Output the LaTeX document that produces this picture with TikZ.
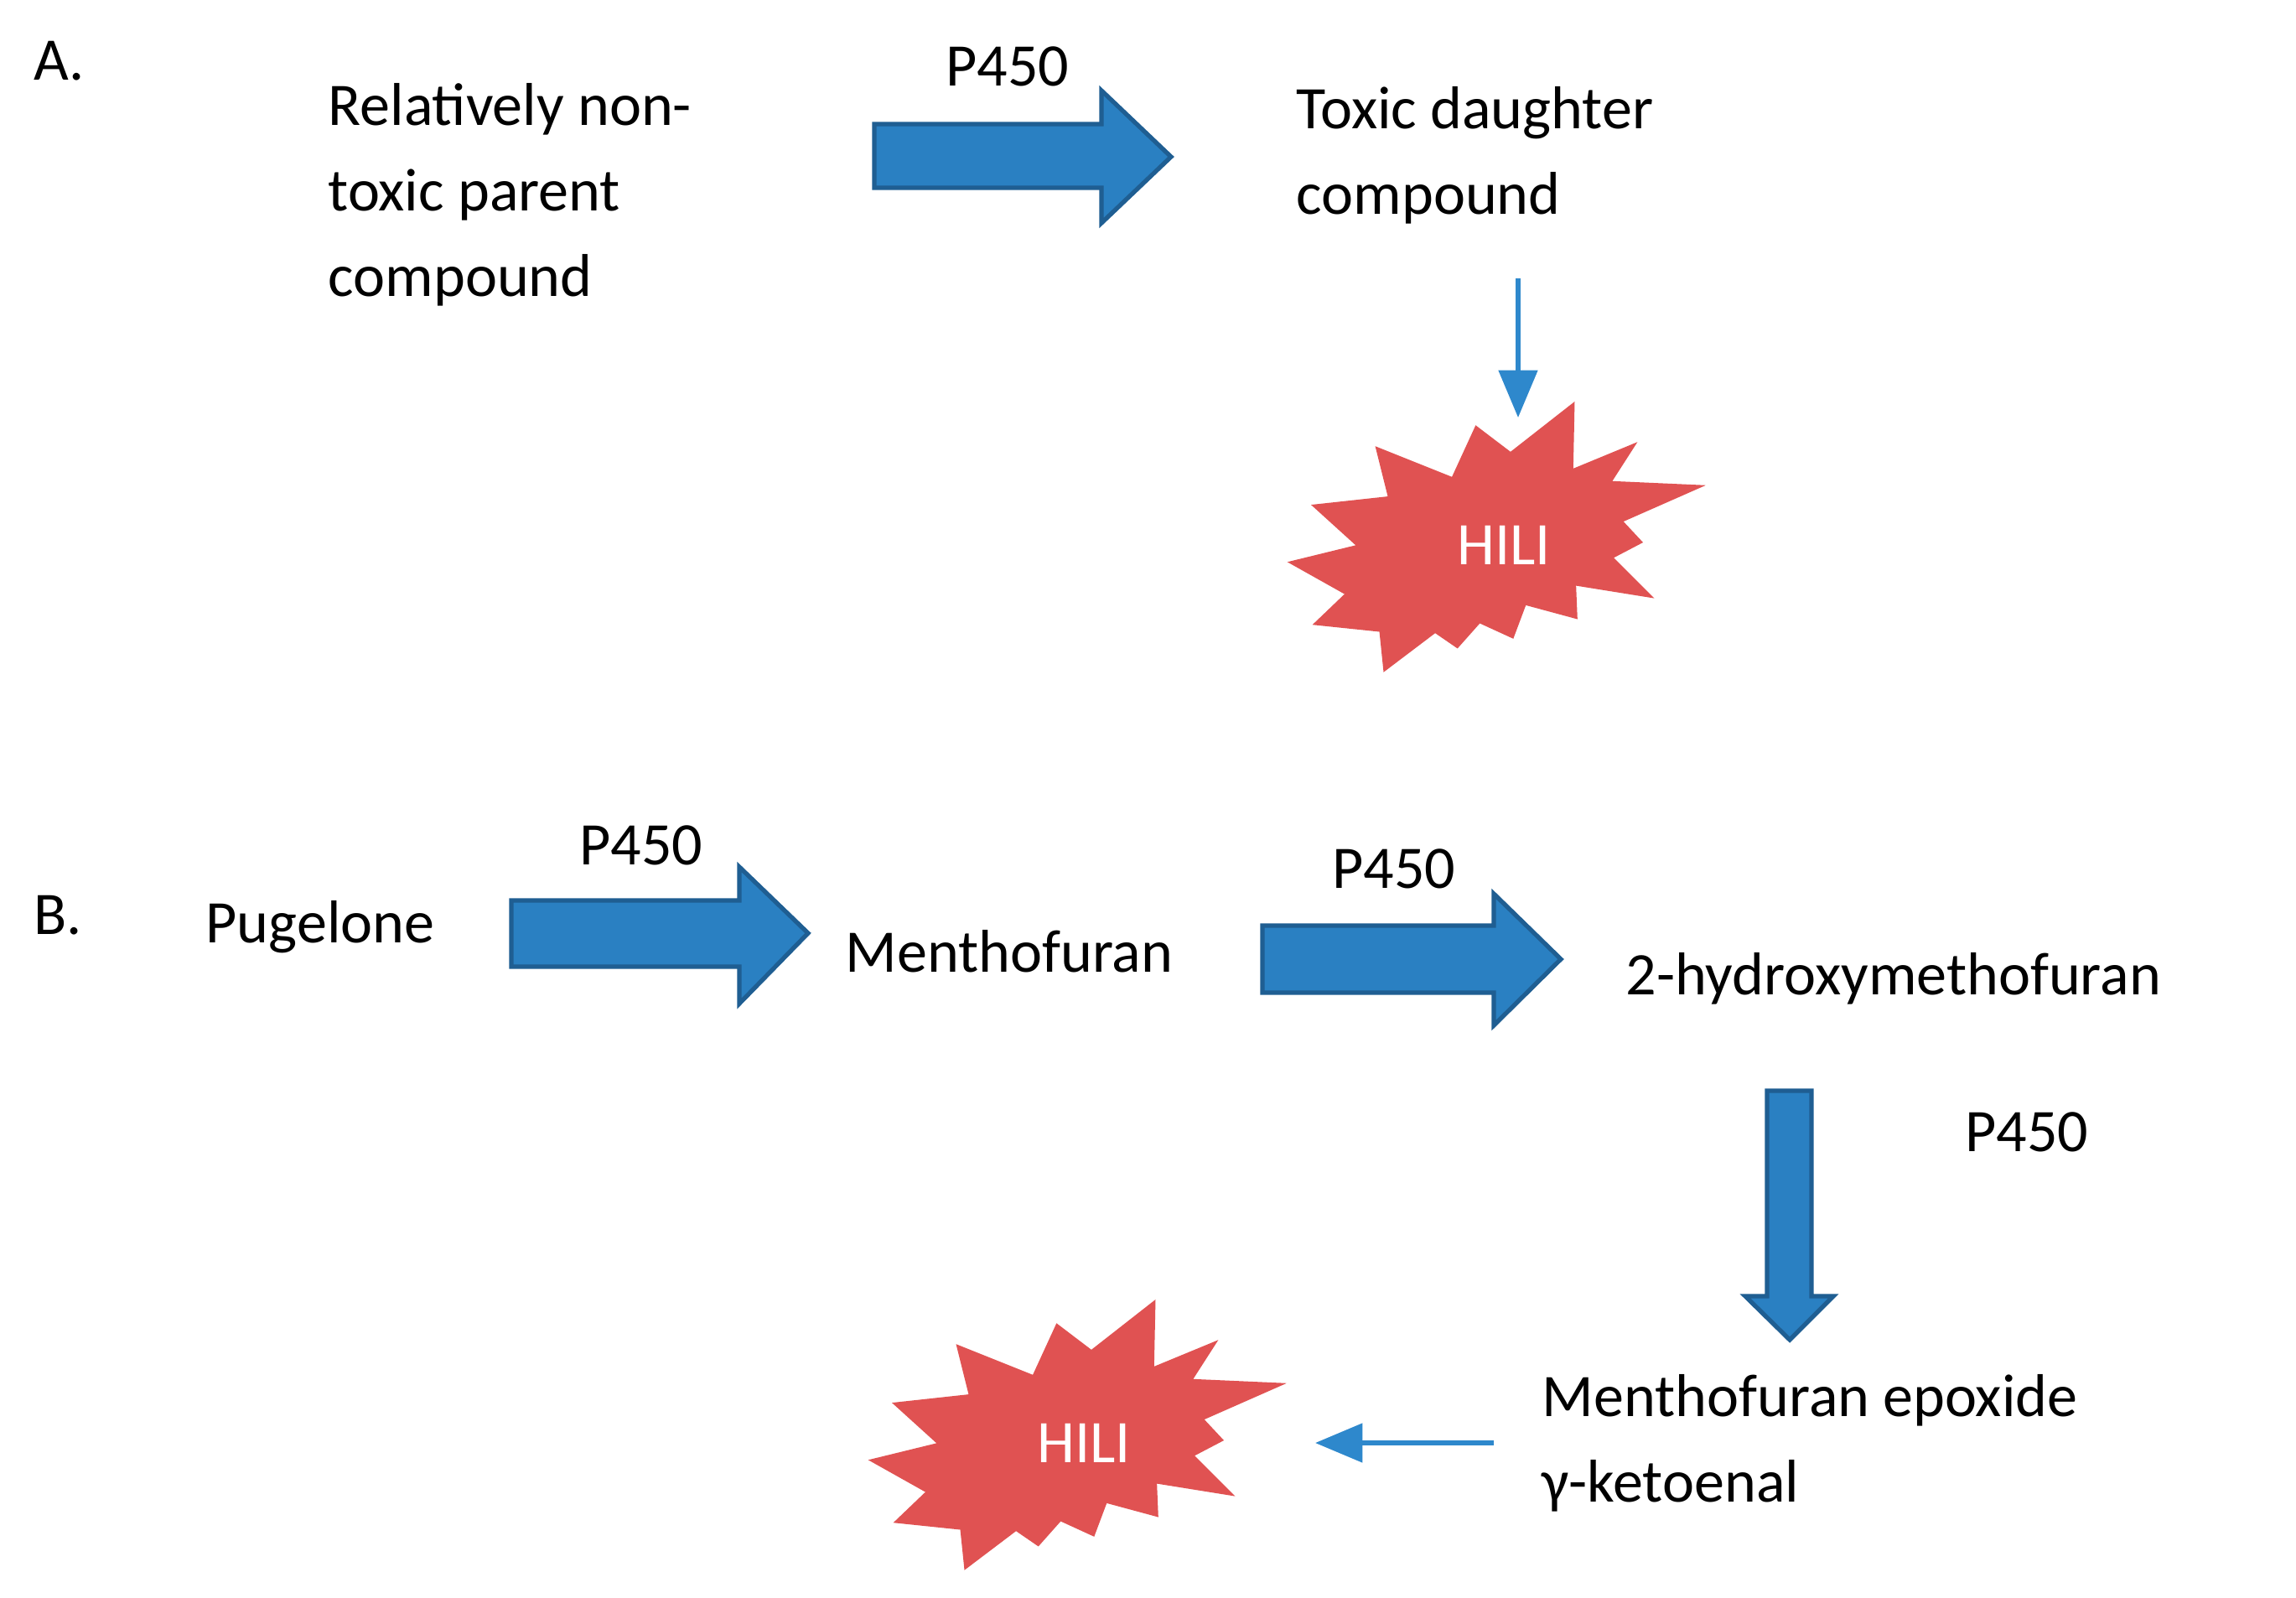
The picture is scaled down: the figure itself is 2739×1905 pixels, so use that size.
\documentclass[tikz,border=0pt]{standalone}
\usepackage{fontspec}
\setmainfont{Carlito}
\usetikzlibrary{arrows.meta}
\definecolor{barrow}{HTML}{2A80C2}
\definecolor{bedge}{HTML}{1F5E92}
\definecolor{thin}{HTML}{2E88CC}
\definecolor{starred}{HTML}{E05252}
\begin{document}
\begin{tikzpicture}[x=0.01cm,y=-0.01cm,
  txt/.style={font=\fontsize{20.5pt}{29pt}\selectfont, inner sep=0pt, align=left},
  block/.style={fill=barrow, draw=bedge, line width=1.5pt, line join=miter},
  thinarr/.style={draw=thin, line width=1.6pt, -{Triangle[length=16pt,width=13pt]}, shorten >=0pt},
  star/.style={fill=starred, draw=none}]
\useasboundingbox (0,0) rectangle (2739,1905);
% --- A ---
\node[txt, anchor=west] (A) at (40,73) {A.};
\node[txt, anchor=west] (parent) at (391,232) {Relatively non-\\toxic parent\\compound};
\node[txt] (pA) at (1202,79) {P450};
\draw[block] (1043,148) -- (1314,148) -- (1314,108) -- (1397,187) -- (1314,266) -- (1314,224) -- (1043,224) -- cycle;
\node[txt, anchor=west] (daughter) at (1546,185) {Toxic daughter\\compound};
\coordinate (a1) at (1811,332);
\coordinate (a2) at (1811,498);
\draw[thinarr] (a1) -- (a2);
\def\starpath{(360,215) -- (405,395) -- (130,425) -- (290,570) -- (45,630) -- (250,745) -- (135,855) -- (375,880) -- (390,1025) -- (575,885) -- (655,940) -- (735,850) -- (855,905) -- (900,785) -- (1085,835) -- (1080,715) -- (1360,760) -- (1215,615) -- (1320,560) -- (1250,485) -- (1545,355) -- (1210,340) -- (1300,200) -- (1070,295) -- (1075,55) -- (845,235) -- (720,140) -- (635,325) -- cycle}
\begin{scope}[shift={(1767,647)}, x=0.003333cm, y=-0.003333cm, shift={(-740,-560)}]
\fill[star] \starpath;
\end{scope}
\node[txt, text=white] (hiliA) at (1794,650) {HILI};
% --- B ---
\node[txt, anchor=west] (B) at (40,1092) {B.};
\node[txt, anchor=west] (pug) at (245,1106) {Pugelone};
\node[txt] (pB1) at (765,1008) {P450};
\draw[block] (610,1074) -- (882,1074) -- (882,1034) -- (964,1113) -- (882,1197) -- (882,1153) -- (610,1153) -- cycle;
\node[txt, anchor=west] (menth) at (1008,1135) {Menthofuran};
\node[txt] (pB2) at (1663,1036) {P450};
\draw[block] (1506,1104) -- (1782,1104) -- (1782,1066) -- (1862,1144) -- (1782,1223) -- (1782,1184) -- (1506,1184) -- cycle;
\node[txt, anchor=west] (hydroxy) at (1939,1167) {2-hydroxymethofuran};
\draw[block] (2108,1301) -- (2161,1301) -- (2161,1546) -- (2187,1546) -- (2135,1598) -- (2082,1546) -- (2108,1546) -- cycle;
\node[txt] (pB3) at (2418,1350) {P450};
\node[txt, anchor=west] (epox) at (1839,1721) {Menthofuran epoxide\\γ-ketoenal};
\coordinate (b1) at (1782,1721);
\coordinate (b2) at (1569,1721);
\draw[thinarr] (b1) -- (b2);
\begin{scope}[shift={(1267,1718)}, x=0.003333cm, y=-0.003333cm, shift={(-740,-560)}]
\fill[star] \starpath;
\end{scope}
\node[txt, text=white] (hiliB) at (1293,1721) {HILI};
\end{tikzpicture}
\end{document}
